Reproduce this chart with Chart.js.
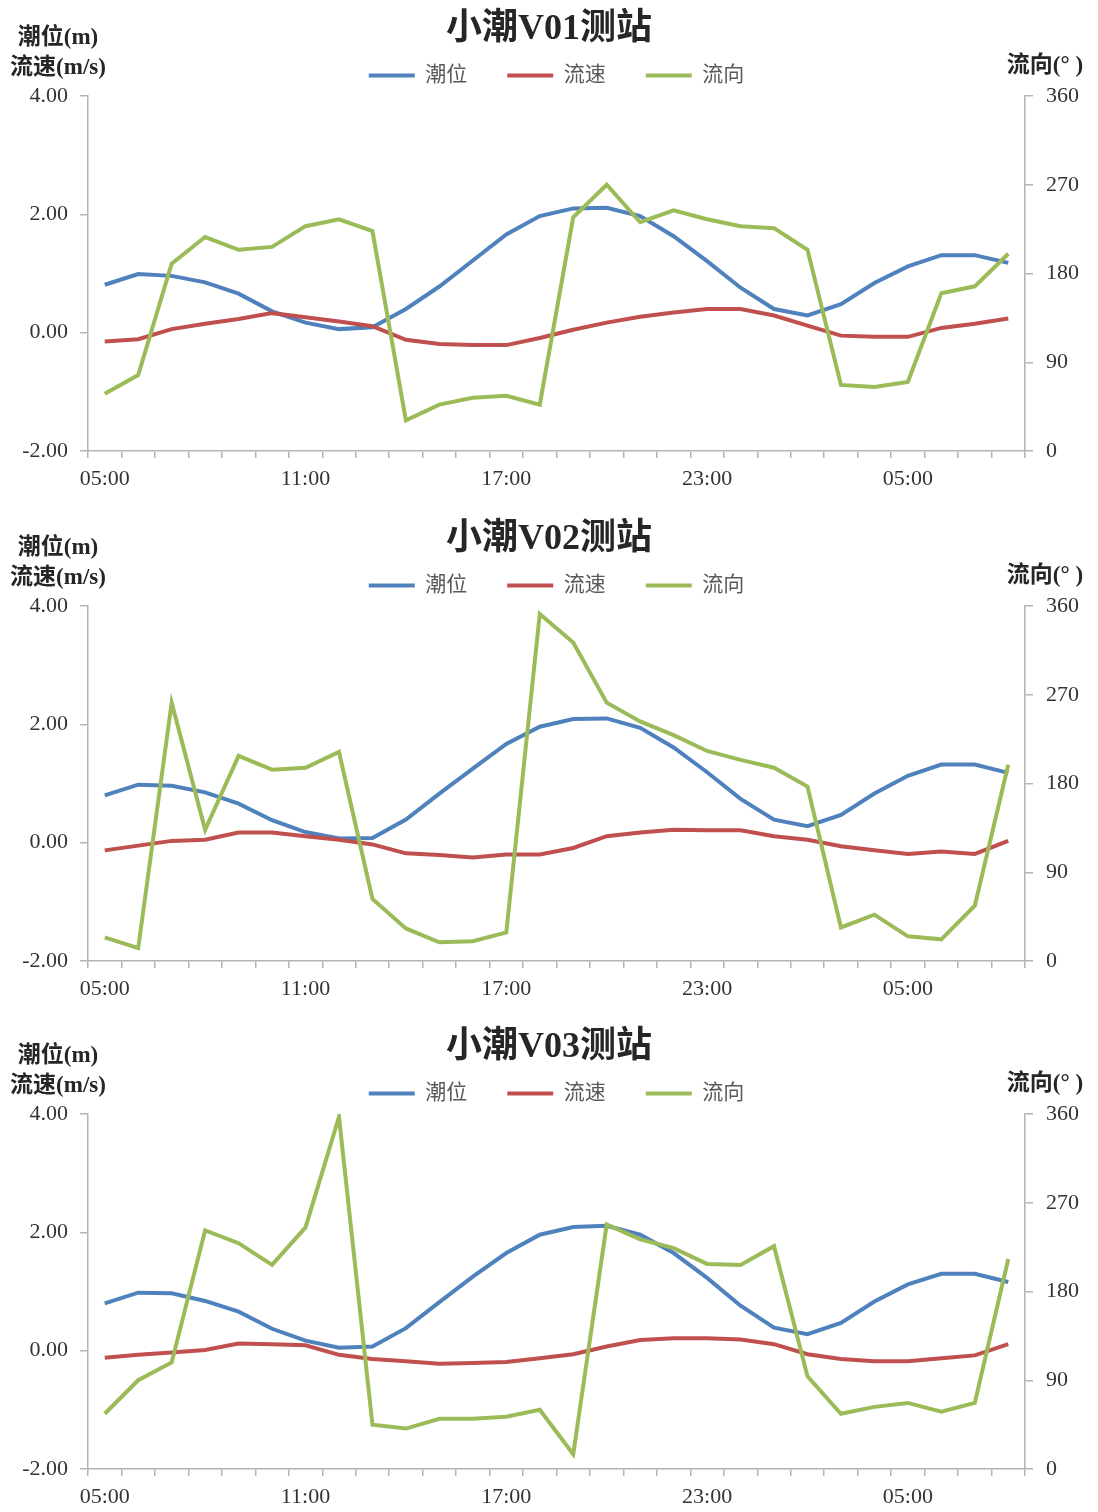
<!DOCTYPE html>
<html>
<head>
<meta charset="utf-8">
<script src="https://cdn.jsdelivr.net/npm/chart.js@4.4.0/dist/chart.umd.min.js"></script>
<style>
  html, body { margin: 0; padding: 0; background: #fff; overflow: hidden; }
  .box { position: absolute; left: 0; width: 1098px; height: 494px; }
</style>
</head>
<body>
<div class="box" style="top:0px"><canvas id="c1"></canvas></div>
<div class="box" style="top:510px"><canvas id="c2"></canvas></div>
<div class="box" style="top:1018px"><canvas id="c3"></canvas></div>
<script>
// heures (05:00 -> 08:00 le lendemain)
const hours = ['05:00','06:00','07:00','08:00','09:00','10:00','11:00','12:00','13:00','14:00',
  '15:00','16:00','17:00','18:00','19:00','20:00','21:00','22:00','23:00','00:00',
  '01:00','02:00','03:00','04:00','05:00','06:00','07:00','08:00'];

// V01
const tideV01 = [0.81,0.99,0.96,0.85,0.66,0.36,0.17,0.06,0.09,0.40,0.78,1.22,1.66,1.97,2.10,2.11,1.97,1.63,1.21,0.76,0.40,0.29,0.48,0.84,1.12,1.31,1.31,1.18];
const speedV01 = [-0.15,-0.11,0.06,0.15,0.23,0.33,0.26,0.19,0.11,-0.12,-0.19,-0.21,-0.21,-0.09,0.05,0.17,0.27,0.34,0.40,0.40,0.29,0.12,-0.05,-0.07,-0.07,0.08,0.15,0.24];
const dirV01 = [58,77,190,217,204,207,228,235,223,31,47,54,56,47,237,270,232,244,235,228,226,204,67,65,70,160,167,200];

// V02
const tideV02 = [0.80,0.98,0.96,0.85,0.66,0.38,0.18,0.07,0.08,0.39,0.83,1.25,1.67,1.96,2.09,2.10,1.94,1.61,1.19,0.74,0.39,0.28,0.47,0.83,1.13,1.32,1.32,1.18];
const speedV02 = [-0.13,-0.05,0.03,0.05,0.17,0.17,0.11,0.05,-0.03,-0.18,-0.21,-0.25,-0.20,-0.20,-0.09,0.11,0.17,0.22,0.21,0.21,0.11,0.05,-0.06,-0.13,-0.19,-0.15,-0.19,0.03];
const dirV02 = [24,13,262,133,208,194,196,212,63,33,19,20,29,352,323,262,243,229,213,204,196,177,34,47,25,22,56,199];

// V03
const tideV03 = [0.80,0.98,0.97,0.84,0.66,0.37,0.17,0.05,0.07,0.38,0.82,1.25,1.65,1.96,2.09,2.11,1.96,1.65,1.23,0.76,0.39,0.28,0.47,0.83,1.12,1.30,1.30,1.16];
const speedV03 = [-0.12,-0.07,-0.03,0.01,0.12,0.11,0.09,-0.07,-0.14,-0.18,-0.22,-0.21,-0.19,-0.13,-0.06,0.07,0.18,0.21,0.21,0.19,0.11,-0.06,-0.14,-0.18,-0.18,-0.13,-0.08,0.11];
const dirV03 = [56,90,108,242,229,207,245,357,45,41,51,51,53,60,15,248,233,224,208,207,226,94,56,63,67,58,67,213];

const serif = '"Liberation Serif", "Times New Roman", "Noto Sans CJK SC", serif';
const axisGray = '#b4b4b4';
const lineW = 4;

Chart.defaults.font.family = serif;

// titres des axes (au-dessus des axes, comme dans Excel)
const axisTitles = {
  id: 'axisTitles',
  afterDraw(chart) {
    const ctx = chart.ctx;
    ctx.save();
    ctx.font = 'bold 23px ' + serif;
    ctx.fillStyle = '#262626';
    ctx.textAlign = 'center';
    ctx.textBaseline = 'middle';
    ctx.fillText('潮位(m)', 58, 38);
    ctx.fillText('流速(m/s)', 58, 68);
    ctx.fillText('流向(° )', 1045, 66);
    ctx.restore();
  }
};

function serie(label, data, color, axis, order) {
  return {
    label, data, yAxisID: axis, order,
    borderColor: color, backgroundColor: color,
    borderWidth: lineW,
    pointBorderColor: color, pointBackgroundColor: color, pointBorderWidth: lineW
  };
}

function makeChart(id, title, tide, speed, dir) {
  return new Chart(document.getElementById(id), {
    type: 'line',
    data: {
      labels: hours,
      datasets: [
        serie('潮位', tide, '#4f81bd', 'y', 3),
        serie('流速', speed, '#c0504d', 'y', 2),
        serie('流向', dir, '#9bbb59', 'y1', 1)
      ]
    },
    options: {
      responsive: true,
      maintainAspectRatio: false,
      animation: false,
      devicePixelRatio: 1,
      layout: { padding: 0 },
      elements: {
        line: { tension: 0, fill: false },
        point: { radius: 0 }
      },
      plugins: {
        title: {
          display: true,
          text: title,
          color: '#262626',
          font: { family: serif, size: 36, weight: 'bold' },
          padding: { top: 7.8, bottom: -26 }
        },
        legend: {
          position: 'top',
          fullSize: false,
          labels: {
            usePointStyle: true,
            pointStyle: 'line',
            pointStyleWidth: 46,
            color: '#595959',
            font: { family: serif, size: 21 },
            padding: 40,
            sort: (a, b) => a.datasetIndex - b.datasetIndex
          }
        },
        tooltip: { enabled: false }
      },
      scales: {
        x: {
          offset: true,
          grid: { offset: true, drawOnChartArea: false, color: axisGray, lineWidth: 1.5, tickLength: 7 },
          border: { color: axisGray, width: 1.5 },
          ticks: {
            autoSkip: false,
            maxRotation: 0,
            color: '#333',
            padding: 8,
            font: { family: serif, size: 22 },
            callback: function (v, i) { return i % 6 === 0 ? this.getLabelForValue(v) : ''; }
          },
          afterFit: s => { s.height = 43; }
        },
        y: {
          position: 'left',
          min: -2, max: 4,
          grid: { drawOnChartArea: false, color: axisGray, lineWidth: 1.5, tickLength: 8 },
          border: { color: axisGray, width: 1.5 },
          ticks: {
            stepSize: 2,
            color: '#333',
            padding: 12,
            font: { family: serif, size: 22 },
            callback: v => v.toFixed(2)
          },
          afterFit: s => { s.width = 88; }
        },
        y1: {
          position: 'right',
          min: 0, max: 360,
          grid: { drawOnChartArea: false, color: axisGray, lineWidth: 1.5, tickLength: 8 },
          border: { color: axisGray, width: 1.5 },
          ticks: {
            stepSize: 90,
            color: '#333',
            padding: 13,
            font: { family: serif, size: 22 }
          },
          afterFit: s => { s.width = 73; }
        }
      }
    },
    plugins: [axisTitles]
  });
}

makeChart('c1', '小潮V01测站', tideV01, speedV01, dirV01);
makeChart('c2', '小潮V02测站', tideV02, speedV02, dirV02);
makeChart('c3', '小潮V03测站', tideV03, speedV03, dirV03);
</script>
</body>
</html>
